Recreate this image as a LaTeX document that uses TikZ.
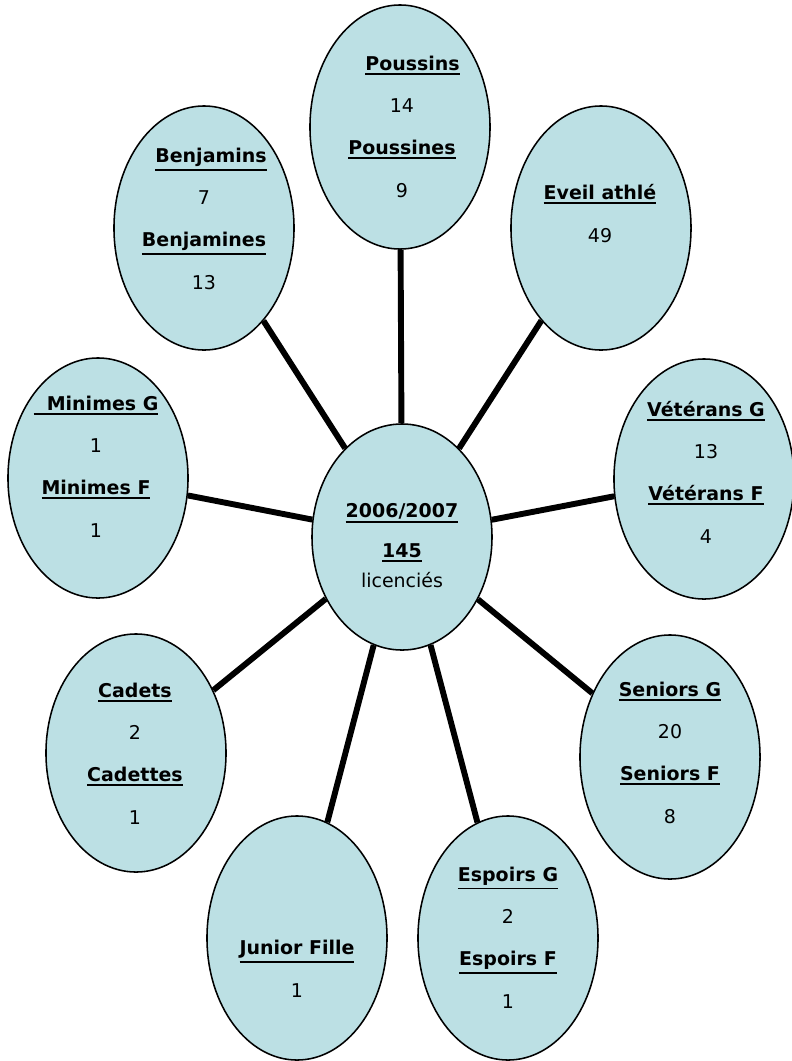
\documentclass[tikz,border=0pt]{standalone}
\usepackage{fontspec}
\setmainfont{DejaVu Sans}
\usetikzlibrary{shapes.geometric}

\definecolor{bullefond}{RGB}{188,224,228}
\newcommand{\ulb}[1]{\setbox0\hbox{\textbf{#1}}\vtop{\copy0\kern1.6pt\hrule height 1.3pt width \wd0}}

\begin{document}
\begin{tikzpicture}[x=0.025cm,y=-0.025cm,
  bulle/.style={ellipse, draw, line width=1.1pt, fill=bullefond, inner sep=0pt,
    minimum width=4.5cm, minimum height=6.1cm},
  texte/.style={align=center, anchor=base, inner sep=0pt,
    font=\fontsize{13.5}{30}\selectfont},
  rayon/.style={line width=4.2pt}]
\useasboundingbox (0,0) rectangle (791,1061);

\coordinate (C) at (402,537);
\coordinate (P) at (400,127);
\coordinate (B) at (204,228);
\coordinate (E) at (601,228);
\coordinate (M) at (98,478);
\coordinate (V) at (704,479);
\coordinate (K) at (136,753);
\coordinate (S) at (670,757);
\coordinate (J) at (297,938);
\coordinate (R) at (508,938);

\node[bulle, minimum height=5.65cm] (centre) at (C) {};
\node[bulle] (pou) at (P) {};
\node[bulle] (ben) at (B) {};
\node[bulle] (eve) at (E) {};
\node[bulle, minimum height=6cm] (min) at (M) {};
\node[bulle, minimum height=6cm] (vet) at (V) {};
\node[bulle, minimum height=5.95cm] (cad) at (K) {};
\node[bulle] (sen) at (S) {};
\node[bulle] (jun) at (J) {};
\node[bulle] (esp) at (R) {};

\draw[rayon] (centre) -- (pou);
\draw[rayon] (centre) -- (ben);
\draw[rayon] (centre) -- (eve);
\draw[rayon] (centre) -- (min);
\draw[rayon] (centre) -- (vet);
\draw[rayon] (centre) -- (cad);
\draw[rayon] (centre) -- (sen);
\draw[rayon] (centre) -- (jun);
\draw[rayon] (centre) -- (esp);

% base = baseline of the last line
\node[texte] (tcentre) at (402,587) {\ulb{2006/2007}\\[-1.5pt]\ulb{145}\\[-9pt]licenciés};
\node[texte] (tpou) at (402,197) {\hspace*{15pt}\ulb{Poussins}\\14\\\ulb{Poussines}\\9};
\node[texte] (tben) at (204,289) {\hspace*{10pt}\ulb{Benjamins}\\7\\\ulb{Benjamines}\\13};
\node[texte] (teve) at (600,242) {\ulb{Eveil athlé}\\49};
\node[texte] (tmin) at (96,537) {\ulb{\ \ Minimes G}\\1\\\ulb{Minimes F}\\1};
\node[texte] (tvet) at (706,543) {\ulb{Vétérans G}\\13\\\ulb{Vétérans F}\\4};
\node[texte] (tcad) at (135,824) {\ulb{Cadets}\\2\\\ulb{Cadettes}\\1};
\node[texte] (tsen) at (670,823) {\ulb{Seniors G}\\20\\\ulb{Seniors F}\\8};
\node[texte] (tjun) at (297,997) {\ulb{Junior Fille}\\1};
\node[texte] (tesp) at (508,1008) {\ulb{Espoirs G}\\2\\\ulb{Espoirs F}\\1};
\end{tikzpicture}
\end{document}
